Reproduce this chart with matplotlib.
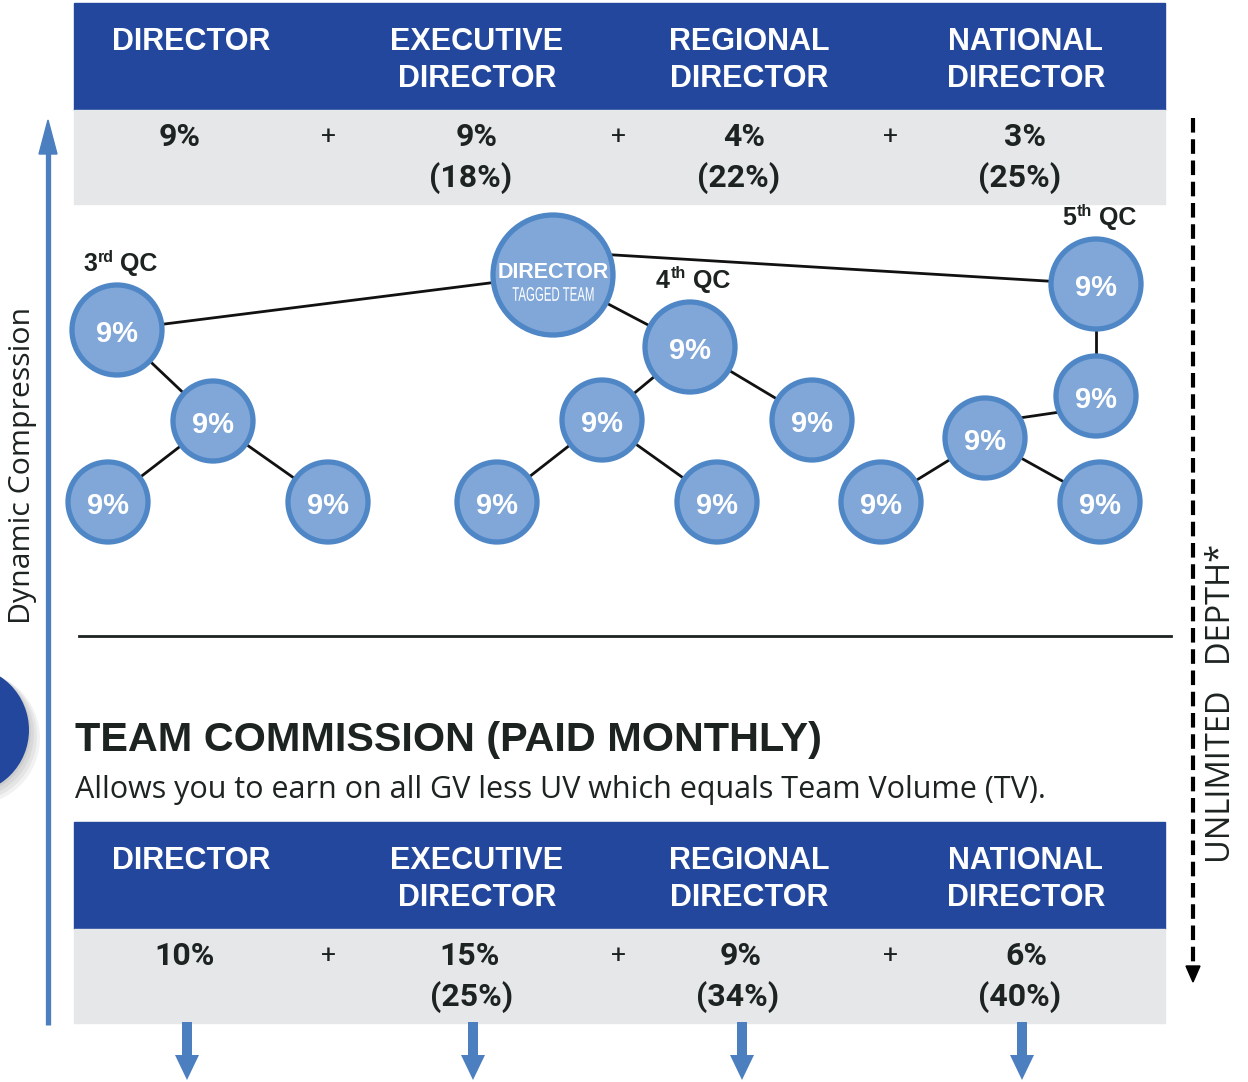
import numpy as np
import matplotlib.pyplot as plt
from matplotlib.patches import Rectangle, Circle, Polygon, PathPatch
from matplotlib.textpath import TextPath
from matplotlib.font_manager import FontProperties
from matplotlib.transforms import Affine2D

# column headers and commission values
ranks = ['DIRECTOR', 'EXECUTIVE\nDIRECTOR', 'REGIONAL\nDIRECTOR', 'NATIONAL\nDIRECTOR']
gen_pct = ['9%', '9%', '4%', '3%']
gen_total = ['', '(18%)', '(22%)', '(25%)']
team_pct = ['10%', '15%', '9%', '6%']
team_total = ['', '(25%)', '(34%)', '(40%)']

# tree nodes: name -> (label, x, y, radius)
nodes = {
    'dir': ('DIRECTOR', 553, 275, 60),
    'a': ('9%', 117, 330, 45), 'b': ('9%', 213, 421, 40),
    'c': ('9%', 108, 502, 40), 'd': ('9%', 328, 502, 40),
    'e': ('9%', 690, 347, 45), 'f': ('9%', 602, 420, 40),
    'g': ('9%', 812, 420, 40), 'h': ('9%', 497, 502, 40),
    'i': ('9%', 717, 502, 40),
    'j': ('9%', 1096, 284, 45), 'k': ('9%', 1096, 396, 40),
    'l': ('9%', 985, 438, 40), 'm': ('9%', 881, 502, 40),
    'n': ('9%', 1100, 502, 40),
}
# edges with optional attachment angles (degrees, y down) on each circle
edges = [('dir', 'a', None, None), ('dir', 'e', None, None), ('dir', 'j', -19, None),
         ('a', 'b', None, None), ('b', 'c', None, None), ('b', 'd', None, None),
         ('e', 'f', None, None), ('e', 'g', None, None), ('f', 'h', None, None),
         ('f', 'i', None, None), ('j', 'k', None, None), ('k', 'l', 157, -29),
         ('l', 'm', None, None), ('l', 'n', None, None)]
qc_labels = [('3', 'rd', 'a'), ('4', 'th', 'e'), ('5', 'th', 'j')]

NAVY = '#22479c'
GRAY = '#e6e7e9'
LIGHT = '#4b7fc0'
FILL = '#80a7d8'
EDGE = '#4f86c6'
DARK = '#1d2321'
BOLD = 'Liberation Sans'
THIN = 'Open Sans'

col_x = [191, 477, 749, 1026]
plus_x = [329, 618, 891]


def table(ax, top, pct, total, px, tx):
    ax.add_patch(Rectangle((74, top), 1091, 107, color=NAVY, zorder=1))
    ax.add_patch(Rectangle((74, top + 107), 1091, 94, color=GRAY, zorder=1))
    for x, r in zip(col_x, ranks):
        ax.text(x, top + 24, r, ha='center', va='top', color='white', fontsize=22,
                fontweight='bold', family=BOLD, linespacing=1.32)
    for x, p in zip(px, pct):
        ax.text(x, top + 134, p, ha='center', va='center', color=DARK, fontsize=23,
                fontweight='bold', family='Roboto')
    for x, t in zip(tx, total):
        if t:
            ax.text(x, top + 175, t, ha='center', va='center', color=DARK, fontsize=23,
                    fontweight='bold', family='Roboto')
    for x in plus_x:
        ax.text(x, top + 134, '+', ha='center', va='center', color=DARK, fontsize=19,
                family='Roboto')


def anchor(key, ang):
    _, x, y, r = nodes[key]
    if ang is None:
        return x, y
    a = np.radians(ang)
    return x + (r + 2) * np.cos(a), y + (r + 2) * np.sin(a)


fig = plt.figure(figsize=(12.48, 10.82), dpi=100)
ax = fig.add_axes([0, 0, 1, 1])
ax.set_xlim(0, 1248)
ax.set_ylim(1082, 0)
ax.axis('off')

table(ax, 3, gen_pct, gen_total, [180, 477, 744, 1025], [0, 471, 739, 1020])
table(ax, 822, team_pct, team_total, [185, 470, 741, 1026], [0, 472, 738, 1020])

# tree
for a, b, ang_a, ang_b in edges:
    x0, y0 = anchor(a, ang_a)
    x1, y1 = anchor(b, ang_b)
    ax.plot([x0, x1], [y0, y1], color='#111111', lw=2, zorder=2)
for key, (lab, x, y, r) in nodes.items():
    ax.add_patch(Circle((x, y), r, facecolor=FILL, edgecolor=EDGE, lw=3.8, zorder=3))
    if key == 'dir':
        ax.text(x, y - 3, lab, ha='center', va='center', color='white', fontsize=15.5,
                fontweight='bold', family=BOLD, zorder=4)
        # condensed subtitle drawn as a squeezed text path
        tp = TextPath((0, 0), 'TAGGED TEAM', size=20, prop=FontProperties(family=BOLD))
        ext = tp.get_extents()
        sx = 81 / ext.width
        sy = 14 / ext.height
        tr = Affine2D().translate(-ext.x0 - ext.width / 2, -ext.y0).scale(sx, -sy).translate(x, y + 26)
        ax.add_patch(PathPatch(tr.transform_path(tp), color='white', lw=0, zorder=4))
    else:
        ax.text(x, y + 4, lab, ha='center', va='center', color='white', fontsize=21,
                fontweight='bold', family=BOLD, zorder=4)
for num, sup, key in qc_labels:
    x, y = nodes[key][1], nodes[key][2] - nodes[key][3] - 21
    ax.text(x - 20, y, num, ha='right', va='center', color=DARK, fontsize=18, fontweight='bold', family=BOLD)
    ax.text(x - 19, y - 7, sup, ha='left', va='center', color=DARK, fontsize=11.5, fontweight='bold', family=BOLD)
    ax.text(x + 3, y, 'QC', ha='left', va='center', color=DARK, fontsize=18, fontweight='bold', family=BOLD)

# left arrow
ax.plot([48, 48], [1025, 150], color=LIGHT, lw=3.8, solid_capstyle='butt')
ax.add_patch(Polygon([[39, 154], [57, 154], [48, 120]], color=LIGHT))
ax.text(23, 465, 'Dynamic Compression', rotation=90, ha='center', va='center', color=DARK,
        fontsize=21.8, family=THIN)

# right dashed arrow
ax.plot([1193, 1193], [118, 968], color='black', lw=3, ls=(0, (3.5, 1.6)))
ax.add_patch(Polygon([[1186, 966], [1200, 966], [1193, 982]], color='black'))
ax.text(1221, 703, 'UNLIMITED   DEPTH*', rotation=90, ha='center', va='center',
        color=DARK, fontsize=23.5, family=THIN)

# separator
ax.plot([79, 1171], [636, 636], color=DARK, lw=2)

# half circle on the left with shadow
for i in range(4):
    ax.add_patch(Circle((-33 + 2 * i, 732 + 2 * i), 64 + i, color='black', alpha=0.05, lw=0))
ax.add_patch(Circle((-35, 730), 64, color=NAVY, lw=0))

# team commission title
ax.text(75, 740, 'TEAM COMMISSION (PAID MONTHLY)', ha='left', va='center', color=DARK,
        fontsize=29.8, fontweight='bold', family=BOLD)
ax.text(75, 790, 'Allows you to earn on all GV less UV which equals Team Volume (TV).', ha='left',
        va='center', color=DARK, fontsize=22, family=THIN)

# down arrows
for x in [187, 473, 742, 1022]:
    ax.add_patch(Rectangle((x - 5, 1022), 10, 34, color=LIGHT, lw=0))
    ax.add_patch(Polygon([[x - 12, 1055], [x + 12, 1055], [x, 1080]], color=LIGHT, lw=0))

fig.savefig('out.png', dpi=100)
